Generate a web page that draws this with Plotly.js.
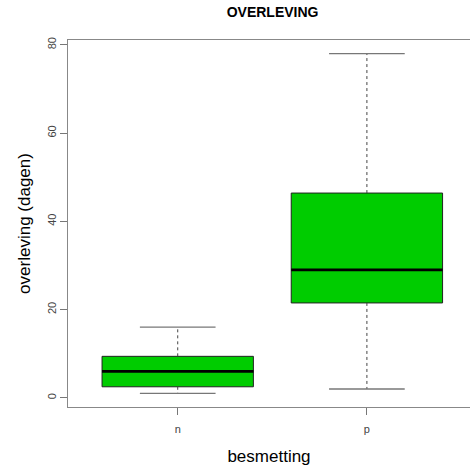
<!DOCTYPE html>
<html>
<head>
<meta charset="utf-8">
<script src="https://cdn.plot.ly/plotly-3.0.1.min.js"></script>
<style>html,body{margin:0;padding:0;background:#fff;}#chart{width:470px;height:467px;}</style>
</head>
<body>
<div id="chart"></div>
<script>
const groups = ['n', 'p'];
const lowerWhisker = [1, 2];
const q1 = [2.5, 21.5];
const median = [6, 29];
const q3 = [9.4, 46.4];
const upperWhisker = [16, 78];

const pos = groups.map((g, i) => i + 1);
const boxHalf = 0.4, capHalf = 0.2;

const boxTrace = {
  type: 'box',
  x: pos,
  q1: q1, median: median, q3: q3,
  lowerfence: q1, upperfence: q3,
  width: 0.8,
  whiskerwidth: 0,
  fillcolor: '#00CC00',
  line: {color: '#222', width: 1},
  hoverinfo: 'skip',
  showlegend: false
};

function segs(fn) {
  const xs = [], ys = [];
  pos.forEach((p, i) => { const s = fn(p, i); xs.push(s[0], s[1], null); ys.push(s[2], s[3], null); });
  return {x: xs, y: ys};
}

const wUp = segs((p, i) => [p, p, q3[i], upperWhisker[i]]);
const wLo = segs((p, i) => [p, p, q1[i], lowerWhisker[i]]);
const whiskers = {
  type: 'scatter', mode: 'lines',
  x: wUp.x.concat(wLo.x), y: wUp.y.concat(wLo.y),
  line: {color: '#444', width: 1, dash: '3px,3px'},
  hoverinfo: 'skip', showlegend: false
};
const cU = segs((p, i) => [p - capHalf, p + capHalf, upperWhisker[i], upperWhisker[i]]);
const cL = segs((p, i) => [p - capHalf, p + capHalf, lowerWhisker[i], lowerWhisker[i]]);
const caps = {
  type: 'scatter', mode: 'lines',
  x: cU.x.concat(cL.x), y: cU.y.concat(cL.y),
  line: {color: '#777', width: 1.3},
  hoverinfo: 'skip', showlegend: false
};
const md = segs((p, i) => [p - boxHalf, p + boxHalf, median[i], median[i]]);
const medians = {
  type: 'scatter', mode: 'lines',
  x: md.x, y: md.y,
  line: {color: '#000', width: 2.6},
  hoverinfo: 'skip', showlegend: false
};

const font = 'Liberation Sans, Arial, sans-serif';
const layout = {
  width: 470, height: 467,
  margin: {l: 68, r: 0, t: 40, b: 60},
  paper_bgcolor: '#fff', plot_bgcolor: '#fff',
  showlegend: false,
  title: {text: '<b>OVERLEVING</b>', font: {family: font, size: 14, color: '#000'},
          x: 0.58, xanchor: 'center', y: 0.975, yanchor: 'middle'},
  xaxis: {
    range: [0.42, 2.545],
    tickmode: 'array', tickvals: pos, ticktext: groups,
    ticks: 'outside', ticklen: 7, tickcolor: '#777', tickwidth: 1,
    ticklabelstandoff: 5,
    showgrid: false, zeroline: false,
    showline: true, linecolor: '#888', linewidth: 1, mirror: true,
    tickfont: {family: font, size: 11, color: '#444'},
    title: {text: 'besmetting', font: {family: font, size: 17, color: '#000'}, standoff: 15}
  },
  yaxis: {
    range: [-2.08, 81.08],
    tickvals: [0, 20, 40, 60, 80],
    ticks: 'outside', ticklen: 7, tickcolor: '#777', tickwidth: 1,
    tickangle: -90,
    showgrid: false, zeroline: false,
    showline: true, linecolor: '#888', linewidth: 1, mirror: false,
    tickfont: {family: font, size: 11, color: '#444'},
    title: {text: 'overleving (dagen)', font: {family: font, size: 17, color: '#000'}, standoff: 10}
  }
};

Plotly.newPlot('chart', [boxTrace, whiskers, caps, medians], layout, {displayModeBar: false, staticPlot: true});
</script>
</body>
</html>
